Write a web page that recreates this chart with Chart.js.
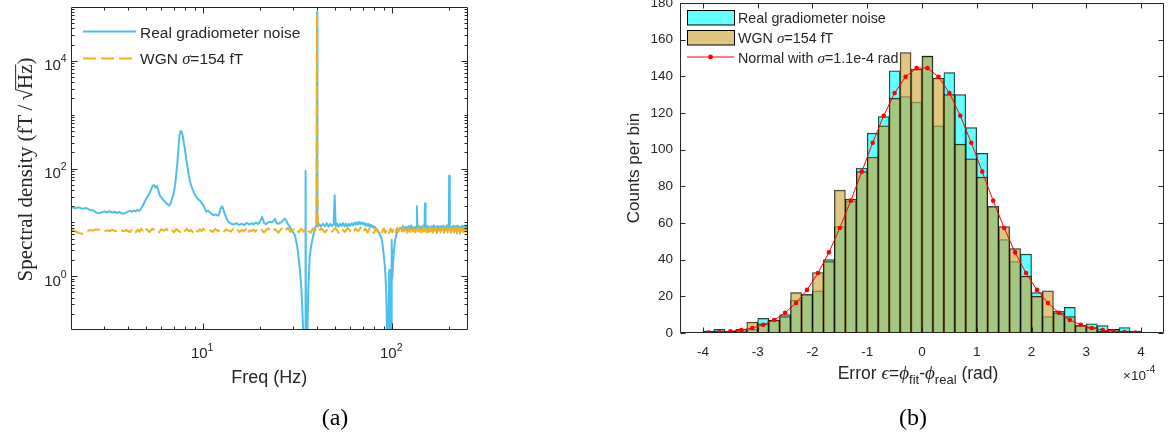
<!DOCTYPE html>
<html>
<head>
<meta charset="utf-8">
<title>Gradiometer noise: spectra and fit-error histogram</title>
<script src="https://cdn.jsdelivr.net/npm/chart.js@4.4.1/dist/chart.umd.min.js"></script>
<style>
  html, body { margin: 0; padding: 0; background: #ffffff; }
  #page { position: relative; width: 1169px; height: 438px; overflow: hidden; background: #fff; }
  #page canvas { position: absolute; top: 0; }
  #spectrum { left: 0; }
  #errors { left: 600px; }
  .panel-tag { position: absolute; top: 403px; width: 60px; margin-left: -30px; text-align: center;
    font-family: 'Liberation Serif', 'Times New Roman', serif; font-size: 24px; line-height: 28px; color: #000; }
</style>
</head>
<body>
<div id="page">
  <canvas id="spectrum" width="480" height="438" style="width:480px;height:438px"></canvas>
  <canvas id="errors" width="569" height="438" style="width:569px;height:438px"></canvas>
  <div class="panel-tag" style="left:335px">(a)</div>
  <div class="panel-tag" style="left:913px">(b)</div>
</div>
<script>
// ---------- panel (a): amplitude spectral density, fT/sqrt(Hz) ----------
const realFreq = [
  2.0,2.1,2.2,2.3,2.4,2.5,2.6,2.7,2.8,2.9,
  3.0,3.1,3.2,3.3,3.4,3.5,3.6,3.7,3.8,3.9,
  4.0,4.1,4.2,4.3,4.4,4.5,4.6,4.7,4.8,4.9,
  5.0,5.1,5.2,5.3,5.4,5.5,5.6,5.7,5.8,5.9,
  6.0,6.1,6.2,6.3,6.4,6.5,6.6,6.7,6.8,6.9,
  7.0,7.1,7.2,7.3,7.4,7.5,7.6,7.7,7.8,7.9,
  8.0,8.1,8.2,8.3,8.4,8.5,8.6,8.7,8.8,8.9,
  9.0,9.2,9.4,9.6,9.8,10.0,10.2,10.4,10.6,10.8,
  11.0,11.3,11.6,12.0,12.2,12.4,12.6,12.8,13.0,13.3,
  13.6,14.0,14.5,15.0,15.5,16.0,16.5,17.0,17.5,18.0,
  18.5,19.0,19.5,20.0,20.5,21.0,21.5,22.0,22.5,23.0,
  23.5,24.0,24.5,25.0,25.5,26.0,26.5,27.0,27.5,28.0,
  29.0,30.0,30.5,31.0,31.5,32.0,32.5,33.0,33.5,34.0,
  34.6,34.8,35.0,35.5,35.9,36.6,37.3,38.1,38.7,39.2,
  39.6,39.8,40.0,40.2,40.5,41,42,43,44,45,
  46,47,48,49,49.6,50.2,51,52,53,54,
  55,56,57,58,59,60,61,62,63,64,
  65,66,67,68,69,70,71,72,73,74,
  75,76,77,78,79,80,81,82,83,84,
  85,86,87,88,89,90,91,92,93,94,
  95,96.0,96.4,97.0,98.5,99.3,100.0,102,103.5,105.5,
  107,109.8,112,114,116,118,120,122,124,126,
  128,130,132,134,135,136,138,140,142,144,
  146,148,149,150,152,154,156,158,160,162,
  164,166,168,170,172,174,176,178,180,182,
  184,186,188,190,192,194,196,198,199,200,
  201,202,204,206,208,210,212,214,216,218,
  220,222,224,226,228,230,232,234,236,238,
  240,242,244,246,248,250
];
const realPsd = [
  19.6,18.3,19.0,17.8,18.5,17.2,16.8,15.5,14.7,15.3,
  16.0,15.4,16.1,15.1,15.7,14.9,15.6,14.7,14.4,15.0,
  15.8,16.3,15.7,16.6,16.0,17.1,16.4,18.2,20.5,23.8,
  27.5,31.0,34.8,40.0,47.5,49.0,44.0,47.0,39.0,31.5,
  29.0,27.2,25.0,24.2,22.4,21.6,20.4,21.8,25.5,30.5,
  36,48,75,125,230,420,495,480,400,300,
  235,170,128,95,74,60,51,45,41,37,
  33.5,29.5,27.0,25.5,23.0,21.0,18.2,15.8,16.6,15.5,
  14.7,13.6,14.0,13.3,15.0,18.4,19.8,17.2,14.4,11.8,
  10.2,9.5,9.1,9.7,9.0,9.5,8.9,9.8,9.1,9.6,
  9.2,9.9,9.3,10.4,12.6,9.7,9.2,9.9,10.3,10.0,
  10.6,11.6,9.6,9.4,9.8,10.2,10.9,11.7,10.8,9.4,
  7.8,6.4,5.8,4.6,3.4,2.2,1.3,0.65,0.22,0.05,
  0.03,90,0.03,0.05,0.5,2.3,3.8,5.4,6.9,8.0,
  8.6,12,80000,14,8.3,9.2,8.4,9.4,8.5,9.6,
  8.3,9.4,8.5,9.3,32,8.4,9.5,8.3,9.4,8.6,
  9.7,8.4,9.5,8.3,9.4,8.7,9.6,8.8,9.9,9.0,
  10.0,9.1,10.2,9.3,9.9,9.2,9.7,8.7,9.5,8.6,
  9.3,8.4,9.0,8.2,8.6,7.9,8.3,7.6,7.4,7.0,
  6.5,5.9,5.4,4.9,3.7,2.6,1.8,1.1,0.45,0.06,
  0.04,0.04,1.3,0.04,0.04,4.7,0.9,3.0,4.6,6.2,
  7.1,7.9,7.4,8.6,7.2,8.3,7.0,8.5,7.5,8.8,
  7.1,8.2,7.6,8.4,20,7.3,8.5,7.0,8.3,7.4,
  8.7,7.2,22.4,8.0,7.3,8.6,7.1,8.2,6.9,8.5,
  7.4,8.8,7.0,8.3,7.5,8.6,7.2,8.4,6.9,8.5,
  7.3,8.7,7.1,8.2,7.4,8.8,7.2,8.3,7.6,73,
  7.5,8.4,6.8,8.2,7.3,8.6,7.1,8.4,7.0,8.5,
  7.3,8.7,7.0,8.3,6.2,8.1,7.5,8.6,6.9,8.4,
  7.2,8.7,7.1,8.5,7.4,8.2
];
const wgnFreq = [
  2.0,2.1,2.2,2.3,2.4,2.5,2.6,2.7,2.8,2.9,
  3.0,3.1,3.2,3.3,3.4,3.5,3.6,3.7,3.8,3.9,
  4.0,4.1,4.2,4.3,4.4,4.5,4.6,4.7,4.8,4.9,
  5.0,5.2,5.4,5.6,5.8,6.0,6.2,6.4,6.6,6.8,
  7.0,7.2,7.4,7.6,7.8,8.0,8.2,8.4,8.6,8.8,
  9.0,9.2,9.4,9.6,9.8,10.0,10.4,10.8,11.2,11.6,
  12.0,12.4,12.8,13.2,13.6,14.0,14.4,14.8,15.2,15.6,
  16.0,16.4,16.8,17.2,17.6,18.0,18.4,18.8,19.2,19.6,
  20,21,22,23,24,25,26,27,28,29,
  30,31,32,33,34,35,36,37,38,39,
  39.6,39.8,40.0,40.2,40.4,41,42,44,46,48,
  50,52,54,56,58,60,62,64,66,68,
  70,72,74,76,78,80,82,84,86,88,
  90,92,94,96,98,100,102,104,106,108,
  110,112,114,116,118,120,122,124,126,128,
  130,132,134,136,138,140,142,144,146,148,
  150,152,154,156,158,160,162,164,166,168,
  170,172,174,176,178,180,182,184,186,188,
  190,192,194,196,198,200,202,204,206,208,
  210,212,214,216,218,220,222,224,226,228,
  230,232,234,236,238,240,242,244,246,248,250
];
const wgnPsd = [
  7.3,6.9,6.3,6.1,6.6,7.2,7.0,7.4,7.3,7.0,
  6.8,7.1,6.9,7.2,7.0,6.7,7.3,7.1,6.8,7.2,
  6.9,6.6,7.4,7.0,6.5,7.3,6.7,7.6,6.9,6.4,
  7.5,6.6,7.7,6.9,6.3,7.4,7.0,7.6,6.7,7.3,
  6.5,7.5,7.0,6.6,7.4,6.9,7.6,6.8,7.2,6.6,
  7.5,7.0,6.7,7.4,6.9,7.6,6.8,7.3,6.6,7.5,
  6.9,7.2,6.5,7.4,7.0,6.7,7.6,6.9,7.2,6.6,
  7.3,6.8,7.5,6.2,7.1,6.9,7.4,6.7,7.2,6.9,
  7.6,6.5,7.8,6.7,7.5,6.4,7.7,6.8,7.9,6.6,
  7.4,7.9,6.5,7.6,6.7,7.8,6.9,6.4,7.7,7.0,
  7.6,18,80000,25,8.2,6.8,7.8,6.5,7.7,6.7,
  7.9,6.4,7.6,6.6,7.8,6.9,6.3,7.7,6.8,8.0,
  6.6,7.7,6.5,7.9,6.8,6.3,7.8,6.6,7.6,6.5,
  7.7,6.4,7.5,6.3,7.6,6.5,7.8,6.6,7.9,6.7,
  7.9,6.5,8.0,6.7,7.9,6.4,7.8,6.6,8.1,6.8,
  7.9,6.5,8.0,6.8,8.2,6.6,7.8,6.5,8.0,6.8,
  7.9,6.4,7.7,6.6,8.1,6.7,7.9,6.5,7.8,6.6,
  8.0,6.3,7.7,6.6,7.9,6.5,7.8,6.7,8.1,6.4,
  7.7,6.6,8.0,6.5,7.8,6.7,7.9,6.4,7.7,6.6,
  8.0,6.5,7.8,6.7,8.0,6.2,7.7,6.6,7.9,6.5,
  7.8,6.7,6.1,7.7,6.6,8.0,6.5,7.8,6.7,7.9,7.0
];
const freqTicks = [10, 100];
const psdTicks = [1, 100, 10000];
const spectrumNames = ['Real gradiometer noise', 'WGN σ=154 fT'];

// ---------- panel (b): histogram of phase-fit errors (units of 1e-4 rad) ----------
const binCenters = [-3.9,-3.7,-3.5,-3.3,-3.1,-2.9,-2.7,-2.5,-2.3,-2.1,
                    -1.9,-1.7,-1.5,-1.3,-1.1,-0.9,-0.7,-0.5,-0.3,-0.1,
                     0.1, 0.3, 0.5, 0.7, 0.9, 1.1, 1.3, 1.5, 1.7, 1.9,
                     2.1, 2.3, 2.5, 2.7, 2.9, 3.1, 3.3, 3.5, 3.7, 3.9];
const realCounts = [1,2,1,1,2,8,7,10,18,21,
                    23,40,58,72,90,109,118,143,129,126,
                    151,113,142,130,112,98,69,51,39,43,
                    22,9,12,14,4,5,4,2,3,1];
const wgnCounts  = [1,1,1,2,6,5,7,9,22,21,
                    33,39,78,73,88,96,113,128,153,144,
                    151,139,130,103,95,85,69,58,46,31,
                    20,23,11,9,4,3,1,2,1,0];
const normalFit  = [0.3,0.5,0.9,1.6,2.7,4.5,7.1,11.0,16.3,23.5,
                    32.7,44.0,57.3,72.2,88.0,103.8,118.5,130.9,139.8,144.5,
                    144.5,139.8,130.9,118.5,103.8,88.0,72.2,57.3,44.0,32.7,
                    23.5,16.3,11.0,7.1,4.5,2.7,1.6,0.9,0.5,0.3];
const errorTicks = [-4,-3,-2,-1,0,1,2,3,4];
const countTicks = [0,20,40,60,80,100,120,140,160,180];
const errorExponent = -4;
const histNames = ['Real gradiometer noise', 'WGN σ=154 fT', 'Normal with σ=1.1e-4 rad'];

// ---------- shared styling ----------
const SANS = "'Liberation Sans', Arial, Helvetica, sans-serif";
const SERIF = "'Liberation Serif', 'Times New Roman', serif";
const INK = '#262626';
const BLUE = '#4DBEEE';
const ORANGE = '#EDB120';
const CYAN_FILL = 'rgba(0,255,255,0.6)';
const TAN_FILL = 'rgba(204,160,45,0.6)';
const EDGE = 'rgba(0,0,0,0.85)';

// 2..9 x 10^n minor positions between lo and hi (log axes)
function logMinors(lo, hi) {
  const out = [];
  for (let e = Math.floor(Math.log10(lo)); e <= Math.ceil(Math.log10(hi)); e++) {
    for (let k = 1; k <= 9; k++) {
      const v = k * Math.pow(10, e);
      if (v > lo * 1.0001 && v < hi * 0.9999) out.push(v);
    }
  }
  return out;
}
// draw a row of differently styled text pieces on one baseline
function drawRuns(ctx, runs, x, y, align) {
  ctx.save();
  ctx.fillStyle = INK; ctx.textBaseline = 'alphabetic'; ctx.textAlign = 'left';
  let w = 0;
  for (const r of runs) { ctx.font = r.f; r.w = ctx.measureText(r.t).width; w += r.w; }
  let cx = align === 'center' ? x - w / 2 : (align === 'right' ? x - w : x);
  for (const r of runs) { ctx.font = r.f; ctx.fillText(r.t, cx, y + (r.dy || 0)); cx += r.w; }
  ctx.restore();
  return w;
}
// split a label at 'σ' so the symbol is set in italic serif
function sigmaRuns(text, size) {
  const parts = text.split('σ');
  const runs = [];
  parts.forEach((p, i) => {
    if (i > 0) runs.push({t: 'σ', f: 'italic ' + (size + 1) + 'px ' + SERIF});
    if (p) runs.push({t: p, f: size + 'px ' + SANS});
  });
  return runs;
}
// box around the plot area with inward tick marks on all four sides
function frameWithTicks(xMajor, xMinor, yMajor, yMinor, majLen, minLen) {
  return {
    id: 'frameWithTicks',
    afterDraw(chart) {
      const {ctx, chartArea: a} = chart;
      const sx = chart.scales.x, sy = chart.scales.y;
      const L = Math.round(a.left) + 0.5, R = Math.round(a.right) - 0.5;
      const T = Math.round(a.top) + 0.5, B = Math.round(a.bottom) - 0.5;
      ctx.save();
      ctx.strokeStyle = INK; ctx.lineWidth = 1;
      ctx.beginPath();
      ctx.rect(L, T, R - L, B - T);
      const xs = xMajor.map(v => [v, majLen]).concat(xMinor.map(v => [v, minLen]));
      const ys = yMajor.map(v => [v, majLen]).concat(yMinor.map(v => [v, minLen]));
      for (const [v, len] of xs) {
        const p = Math.round(sx.getPixelForValue(v)) + 0.5;
        ctx.moveTo(p, B); ctx.lineTo(p, B - len);
        ctx.moveTo(p, T); ctx.lineTo(p, T + len);
      }
      for (const [v, len] of ys) {
        const p = Math.round(sy.getPixelForValue(v)) + 0.5;
        ctx.moveTo(L, p); ctx.lineTo(L + len, p);
        ctx.moveTo(R, p); ctx.lineTo(R - len, p);
      }
      ctx.stroke();
      ctx.restore();
    }
  };
}
// "10" with a raised exponent, placed through the log scales
function powerTickLabels(xVals, yVals) {
  return {
    id: 'powerTickLabels',
    afterDraw(chart) {
      const {ctx, chartArea: a} = chart;
      const sx = chart.scales.x, sy = chart.scales.y;
      const big = '15px ' + SANS, small = '10.5px ' + SANS;
      for (const v of xVals) {
        const e = String(Math.round(Math.log10(v)));
        drawRuns(ctx, [{t: '10', f: big}, {t: e, f: small, dy: -7.5}],
                 sx.getPixelForValue(v) - 1, a.bottom + 28.3, 'center');
      }
      for (const v of yVals) {
        const e = String(Math.round(Math.log10(v)));
        drawRuns(ctx, [{t: '10', f: big}, {t: e, f: small, dy: -8}],
                 a.left - 4.3, sy.getPixelForValue(v) + 9.5, 'right');
      }
    }
  };
}
function fixedAxis(size, horizontal) {
  return s => {
    if (horizontal) { s.height = size; s.paddingLeft = 0; s.paddingRight = 0; }
    else { s.width = size; s.paddingTop = 0; s.paddingBottom = 0; }
  };
}

// ---------- panel (a) ----------
const spectrumLegend = {
  id: 'spectrumLegend',
  afterDraw(chart) {
    const ctx = chart.ctx;
    ctx.save();
    ctx.lineWidth = 2;
    ctx.strokeStyle = BLUE;
    ctx.beginPath(); ctx.moveTo(83, 31.5); ctx.lineTo(136, 31.5); ctx.stroke();
    ctx.strokeStyle = ORANGE; ctx.setLineDash([13, 5]);
    ctx.beginPath(); ctx.moveTo(83, 58.5); ctx.lineTo(136, 58.5); ctx.stroke();
    ctx.restore();
    drawRuns(ctx, sigmaRuns(spectrumNames[0], 15.5), 140, 37.5, 'left');
    drawRuns(ctx, sigmaRuns(spectrumNames[1], 15.5), 140, 64, 'left');
  }
};
const densityTitle = {
  id: 'densityTitle',
  afterDraw(chart) {
    const {ctx, chartArea: a} = chart;
    const size = 21;
    ctx.save();
    ctx.fillStyle = INK;
    ctx.translate(25, (a.top + a.bottom) / 2 + 1);
    ctx.rotate(-Math.PI / 2);
    ctx.font = size + 'px ' + SERIF;
    ctx.textBaseline = 'alphabetic'; ctx.textAlign = 'left';
    const parts = ['Spectral density (fT\u2009/\u2009', '\u221A', 'Hz', ')'];
    const w = parts.map(p => ctx.measureText(p).width);
    const total = w.reduce((s, v) => s + v, 0);
    let x = -total / 2;
    const base = size * 0.33;
    for (let i = 0; i < parts.length; i++) {
      ctx.fillText(parts[i], x, base);
      if (i === 2) ctx.fillRect(x - 1, base - size * 0.8, w[i] + 1, 1);
      x += w[i];
    }
    ctx.restore();
  }
};

new Chart(document.getElementById('spectrum'), {
  type: 'line',
  data: {
    datasets: [
      { label: spectrumNames[1], data: wgnFreq.map((f, i) => ({x: f, y: wgnPsd[i]})),
        borderColor: ORANGE, borderWidth: 2, borderDash: [13, 5], borderJoinStyle: 'round',
        pointRadius: 0, tension: 0, order: 0 },
      { label: spectrumNames[0], data: realFreq.map((f, i) => ({x: f, y: realPsd[i]})),
        borderColor: BLUE, borderWidth: 2, borderJoinStyle: 'round',
        pointRadius: 0, tension: 0, order: 1 }
    ]
  },
  options: {
    responsive: false, animation: false, events: [], devicePixelRatio: 1,
    layout: { autoPadding: false, padding: { left: 0, right: 12.5, top: 7, bottom: 0 } },
    plugins: { legend: { display: false }, tooltip: { enabled: false } },
    scales: {
      x: {
        type: 'logarithmic', min: 2, max: 250,
        grid: { display: false, drawTicks: false }, border: { display: false },
        afterBuildTicks: s => { s.ticks = freqTicks.map(v => ({value: v})); },
        afterFit: fixedAxis(108, true),
        ticks: { display: false },
        title: { display: true, text: 'Freq (Hz)', color: INK,
                 font: { family: SANS, size: 18 }, padding: { top: 0, bottom: 49 } }
      },
      y: {
        type: 'logarithmic', min: 0.1, max: 100000,
        grid: { display: false, drawTicks: false }, border: { display: false },
        afterBuildTicks: s => { s.ticks = psdTicks.map(v => ({value: v})); },
        afterFit: fixedAxis(71, false),
        ticks: { display: false }
      }
    }
  },
  plugins: [
    frameWithTicks(freqTicks, logMinors(2, 250).filter(v => !freqTicks.includes(v)),
                   psdTicks, logMinors(0.1, 100000).filter(v => !psdTicks.includes(v)), 6, 3),
    powerTickLabels(freqTicks, psdTicks),
    spectrumLegend, densityTitle
  ]
});

// ---------- panel (b) ----------
const histLegend = {
  id: 'histLegend',
  afterDraw(chart) {
    const ctx = chart.ctx;
    ctx.save();
    ctx.lineWidth = 1; ctx.strokeStyle = '#000';
    ctx.fillStyle = CYAN_FILL; ctx.fillRect(87, 10.5, 47, 14.5); ctx.strokeRect(87.5, 10.5, 47, 14.5);
    ctx.fillStyle = TAN_FILL; ctx.fillRect(87, 30.5, 47, 14.5); ctx.strokeRect(87.5, 30.5, 47, 14.5);
    ctx.strokeStyle = '#ff0000';
    ctx.beginPath(); ctx.moveTo(87, 57); ctx.lineTo(134, 57); ctx.stroke();
    ctx.fillStyle = '#ff0000';
    ctx.beginPath(); ctx.arc(110.5, 57, 2.4, 0, Math.PI * 2); ctx.fill();
    ctx.restore();
    drawRuns(ctx, sigmaRuns(histNames[0], 14.3), 138, 23, 'left');
    drawRuns(ctx, sigmaRuns(histNames[1], 14.3), 138, 43, 'left');
    drawRuns(ctx, sigmaRuns(histNames[2], 14.3), 138, 63, 'left');
  }
};
const errorTitle = {
  id: 'errorTitle',
  afterDraw(chart) {
    const {ctx, chartArea: a} = chart;
    const base = '17.5px ' + SANS, greek = 'italic 19px ' + SERIF, sub = '13px ' + SANS;
    drawRuns(ctx, [
      {t: 'Error ', f: base}, {t: '\u03F5', f: greek}, {t: '=', f: base},
      {t: '\u03D5', f: greek}, {t: 'fit', f: sub, dy: 5}, {t: '-', f: base},
      {t: '\u03D5', f: greek}, {t: 'real', f: sub, dy: 5}, {t: ' (rad)', f: base}
    ], (a.left + a.right) / 2 - 4, 379, 'center');
    drawRuns(ctx, [
      {t: '\u00D710', f: '13.5px ' + SANS},
      {t: String(errorExponent), f: '10.5px ' + SANS, dy: -7}
    ], 523, 380, 'left');
  }
};

const barCommon = { borderColor: EDGE, borderWidth: 0.8, grouped: false,
                    barPercentage: 1, categoryPercentage: 1 };

new Chart(document.getElementById('errors'), {
  type: 'bar',
  data: {
    datasets: [
      { type: 'line', label: histNames[2],
        data: binCenters.map((c, i) => ({x: c, y: normalFit[i]})),
        borderColor: '#ff0000', borderWidth: 1, pointRadius: 2.3,
        pointBackgroundColor: '#ff0000', pointBorderWidth: 0, tension: 0, order: 0 },
      Object.assign({ label: histNames[1], data: binCenters.map((c, i) => ({x: c, y: wgnCounts[i]})),
        backgroundColor: TAN_FILL, order: 1 }, barCommon),
      Object.assign({ label: histNames[0], data: binCenters.map((c, i) => ({x: c, y: realCounts[i]})),
        backgroundColor: CYAN_FILL, order: 2 }, barCommon)
    ]
  },
  options: {
    responsive: false, animation: false, events: [], devicePixelRatio: 1,
    layout: { autoPadding: false, padding: { left: 0, right: 5, top: 3, bottom: 0 } },
    plugins: { legend: { display: false }, tooltip: { enabled: false } },
    scales: {
      x: {
        type: 'linear', min: -4.42, max: 4.42, offset: false,
        grid: { display: false, drawTicks: false, offset: false }, border: { display: false },
        afterBuildTicks: s => { s.ticks = errorTicks.map(v => ({value: v})); },
        afterFit: fixedAxis(105, true),
        ticks: { autoSkip: false, maxRotation: 0, font: { family: SANS, size: 13.5 },
                 color: INK, padding: 11 }
      },
      y: {
        type: 'linear', min: 0, max: 180,
        grid: { display: false, drawTicks: false }, border: { display: false },
        afterBuildTicks: s => { s.ticks = countTicks.map(v => ({value: v})); },
        afterFit: fixedAxis(80, false),
        ticks: { autoSkip: false, font: { family: SANS, size: 13.5 }, color: INK, padding: 7 },
        title: { display: true, text: 'Counts per bin', color: INK,
                 font: { family: SANS, size: 17 }, padding: { top: 24, bottom: 0 } }
      }
    }
  },
  plugins: [frameWithTicks(errorTicks, [], countTicks, [], 5, 3), histLegend, errorTitle]
});
</script>
</body>
</html>
